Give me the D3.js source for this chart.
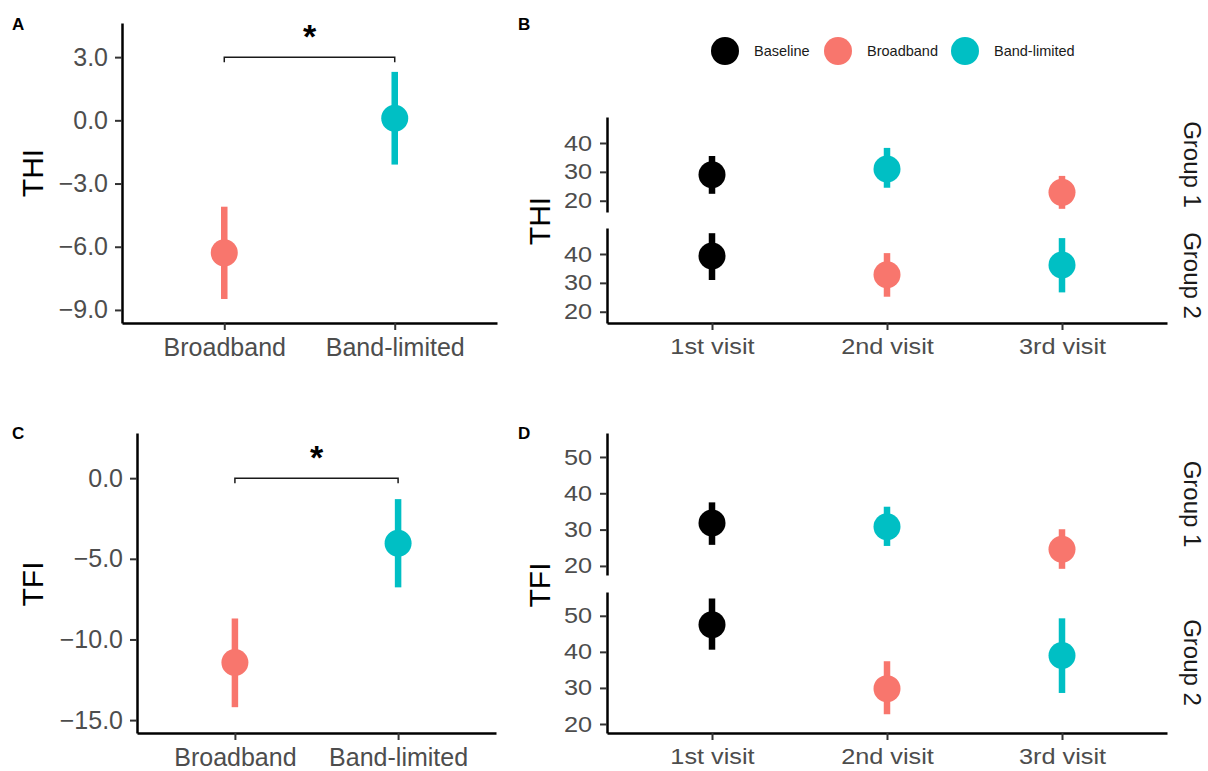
<!DOCTYPE html>
<html>
<head>
<meta charset="utf-8">
<script src="https://cdn.jsdelivr.net/npm/d3@7"></script>
<style>
  body { margin: 0; background: #fff; }
  svg text { font-family: "Liberation Sans", Arial, sans-serif; }
</style>
</head>
<body>
<div id="chart"></div>
<script>
// ---- data ----
const conditions = ["Broadband", "Band-limited"];
const thiChange = [-6.29, 0.1];
const thiChangeLo = [-8.48, -2.1];
const thiChangeHi = [-4.1, 2.3];
const tfiChange = [-11.43, -4.04];
const tfiChangeLo = [-14.2, -6.77];
const tfiChangeHi = [-8.7, -1.3];

const visits = ["1st visit", "2nd visit", "3rd visit"];
const groups = ["Group 1", "Group 2"];
const legendKeys = ["Baseline", "Broadband", "Band-limited"];
const group1Cond = ["Baseline", "Band-limited", "Broadband"];
const group2Cond = ["Baseline", "Broadband", "Band-limited"];

const thiG1 = [29.0, 31.0, 22.9], thiG1Lo = [22.4, 24.5, 17.2], thiG1Hi = [35.5, 38.3, 28.6];
const thiG2 = [39.3, 32.8, 36.2], thiG2Lo = [31.0, 25.2, 26.7], thiG2Hi = [47.2, 40.3, 45.5];
const tfiG1 = [31.8, 30.8, 24.6], tfiG1Lo = [25.8, 25.5, 19.2], tfiG1Hi = [37.5, 36.3, 30.1];
const tfiG2 = [47.5, 29.8, 39.0], tfiG2Lo = [40.6, 22.7, 28.6], tfiG2Hi = [54.8, 37.4, 49.3];

const thiTicks = [-9, -6, -3, 0, 3];
const tfiTicks = [-15, -10, -5, 0];
const thiFacetTicks = [20, 30, 40];
const tfiFacetTicks = [20, 30, 40, 50];

const color = d3.scaleOrdinal()
  .domain(legendKeys)
  .range(["#000000", "#F8766D", "#00BFC4"]);

const svg = d3.select("#chart").append("svg")
  .attr("width", 1208)
  .attr("height", 771);

const R = 13.5;      // point radius
const BAR = 6.5;     // error bar width

function styleAxis(g, stretch) {
  g.select(".domain").attr("stroke", "#000").attr("stroke-width", 2.5);
  g.selectAll(".tick line").attr("stroke", "#333").attr("stroke-width", 2);
  g.selectAll(".tick text")
    .attr("fill", "#4D4D4D")
    .style("font-size", stretch ? "22px" : "25px");
  if (stretch) g.selectAll(".tick text").attr("transform", "scale(1.15,1)");
}

function panelLabel(txt, x, y) {
  svg.append("text").attr("x", x).attr("y", y)
    .style("font-size", "17px").style("font-weight", "bold")
    .text(txt);
}

function yTitle(txt, x, y) {
  svg.append("text")
    .attr("transform", `translate(${x},${y}) rotate(-90)`)
    .attr("text-anchor", "middle")
    .style("font-size", "30px")
    .text(txt);
}

// ---- panels A and C : change scores ----
function changePanel(o) {
  const x = d3.scalePoint().domain(conditions).range([o.left, o.right]).padding(0.6);
  const y = d3.scaleLinear().domain(o.domain).range([o.bottom, o.top]);
  const g = svg.append("g");

  g.append("g").attr("transform", `translate(${o.left},0)`)
    .call(d3.axisLeft(y).tickValues(o.ticks).tickFormat(d3.format(".1f"))
      .tickSize(7).tickSizeOuter(0).tickPadding(7))
    .call(a => styleAxis(a, false));

  g.append("g").attr("transform", `translate(0,${o.bottom})`)
    .call(d3.axisBottom(x).tickSize(7).tickSizeOuter(0).tickPadding(8))
    .call(a => styleAxis(a, false));

  const rows = conditions.map((c, i) => ({c: c, m: o.mean[i], lo: o.lo[i], hi: o.hi[i]}));
  g.selectAll("line.err").data(rows).enter().append("line")
    .attr("x1", d => x(d.c)).attr("x2", d => x(d.c))
    .attr("y1", d => y(d.lo)).attr("y2", d => y(d.hi))
    .attr("stroke", d => color(d.c)).attr("stroke-width", BAR);
  g.selectAll("circle").data(rows).enter().append("circle")
    .attr("cx", d => x(d.c)).attr("cy", d => y(d.m)).attr("r", R)
    .attr("fill", d => color(d.c));

  // significance bracket
  const x1 = x(conditions[0]), x2 = x(conditions[1]), yb = y(o.sig);
  g.append("path")
    .attr("d", `M${x1},${yb + 5}V${yb}H${x2}V${yb + 5}`)
    .attr("fill", "none").attr("stroke", "#1a1a1a").attr("stroke-width", 1.5);
  g.append("text")
    .attr("x", (x1 + x2) / 2).attr("y", y(o.star))
    .attr("text-anchor", "middle")
    .style("font-size", "34px").style("font-weight", "bold")
    .text("*");
}

changePanel({left: 122, right: 497, top: 23, bottom: 323, domain: [-9.62, 4.62],
  ticks: thiTicks, mean: thiChange, lo: thiChangeLo, hi: thiChangeHi, sig: 3.0, star: 3.43});
changePanel({left: 137, right: 496, top: 433, bottom: 733, domain: [-15.8, 2.8],
  ticks: tfiTicks, mean: tfiChange, lo: tfiChangeLo, hi: tfiChangeHi, sig: 0.0, star: 0.56});

// ---- panels B and D : visits faceted by group ----
function facetPanel(o) {
  const x = d3.scalePoint().domain(visits).range([o.left, o.right]).padding(0.6);
  const facets = [
    {name: groups[0], cond: group1Cond, m: o.g1, lo: o.g1Lo, hi: o.g1Hi, top: o.f1[0], bottom: o.f1[1]},
    {name: groups[1], cond: group2Cond, m: o.g2, lo: o.g2Lo, hi: o.g2Hi, top: o.f2[0], bottom: o.f2[1]}
  ];
  facets.forEach((f, k) => {
    const y = d3.scaleLinear().domain(o.domain).range([f.bottom, f.top]);
    const g = svg.append("g");
    g.append("g").attr("transform", `translate(${o.left},0)`)
      .call(d3.axisLeft(y).tickValues(o.ticks).tickFormat(d3.format("d"))
        .tickSize(7).tickSizeOuter(0).tickPadding(6))
      .call(a => styleAxis(a, true));
    if (k === 1) {
      g.append("g").attr("transform", `translate(0,${f.bottom})`)
        .call(d3.axisBottom(x).tickSize(7).tickSizeOuter(0).tickPadding(8))
        .call(a => styleAxis(a, true));
    }
    const rows = visits.map((v, i) => ({v: v, c: f.cond[i], m: f.m[i], lo: f.lo[i], hi: f.hi[i]}));
    g.selectAll("line.err").data(rows).enter().append("line")
      .attr("x1", d => x(d.v)).attr("x2", d => x(d.v))
      .attr("y1", d => y(d.lo)).attr("y2", d => y(d.hi))
      .attr("stroke", d => color(d.c)).attr("stroke-width", BAR);
    g.selectAll("circle").data(rows).enter().append("circle")
      .attr("cx", d => x(d.v)).attr("cy", d => y(d.m)).attr("r", R)
      .attr("fill", d => color(d.c));
    // strip label
    svg.append("text")
      .attr("transform", `translate(1184,${(f.top + f.bottom) / 2}) rotate(90)`)
      .attr("text-anchor", "middle")
      .attr("fill", "#1A1A1A")
      .style("font-size", "24px")
      .text(f.name);
  });
}

facetPanel({left: 607, right: 1167, domain: [16.1, 49], ticks: thiFacetTicks,
  f1: [117, 212], f2: [228, 323],
  g1: thiG1, g1Lo: thiG1Lo, g1Hi: thiG1Hi, g2: thiG2, g2Lo: thiG2Lo, g2Hi: thiG2Hi});
facetPanel({left: 607, right: 1167, domain: [17.5, 56.6], ticks: tfiFacetTicks,
  f1: [433, 575], f2: [592, 733],
  g1: tfiG1, g1Lo: tfiG1Lo, g1Hi: tfiG1Hi, g2: tfiG2, g2Lo: tfiG2Lo, g2Hi: tfiG2Hi});

// legend
const legendX = [725, 838, 965];
const lg = svg.append("g");
legendKeys.forEach((k, i) => {
  lg.append("circle").attr("cx", legendX[i]).attr("cy", 51).attr("r", 14).attr("fill", color(k));
  lg.append("text").attr("x", legendX[i] + 29).attr("y", 56)
    .style("font-size", "14.5px").attr("fill", "#1A1A1A").text(k);
});

// titles and panel letters
yTitle("THI", 43, 173);
yTitle("THI", 550, 221);
yTitle("TFI", 43, 584);
yTitle("TFI", 550, 585);
panelLabel("A", 12, 30);
panelLabel("B", 518, 30);
panelLabel("C", 12, 439);
panelLabel("D", 518, 439);
</script>
</body>
</html>
